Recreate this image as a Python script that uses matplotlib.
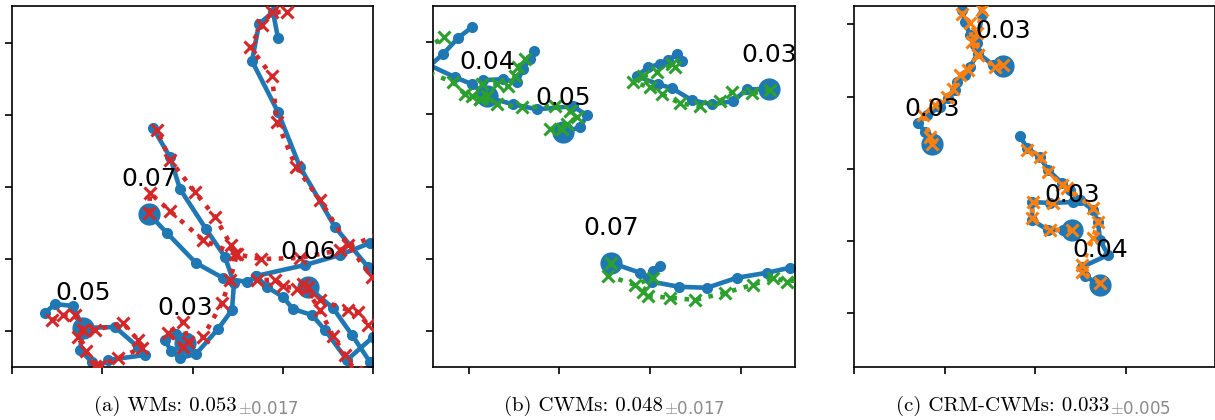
import numpy as np
import matplotlib.pyplot as plt

plt.rcParams['mathtext.fontset'] = 'cm'

BLUE = '#1f77b4'

# coordinates are in image-like units (y grows downward)
# ---- (a) WMs ----
a_gt_07 = [(149, 214), (167, 233), (196, 263), (223, 278), (247, 282), (256, 276), (305, 265), (340, 255), (370, 243), (390, 236)]
a_gt_03 = [(185, 343), (176, 334), (165, 340), (171, 351), (180, 358), (196, 354), (218, 329), (232, 310), (234, 283),
           (225, 257), (206, 229), (180, 189), (170, 157), (153, 128)]
a_gt_06 = [(308, 287), (333, 308), (352, 335), (370, 362), (380, 376)]
a_gt_x1 = [(395, 300), (368, 267), (335, 227), (300, 167), (278, 112), (252, 61), (259, 24), (273, 12), (278, 38)]
a_gt_x2 = [(395, 320), (373, 337), (347, 360), (325, 330), (312, 315), (293, 309), (283, 297), (267, 287), (256, 276)]
a_gt_05 = [(83, 328), (115, 327), (138, 347), (145, 355), (108, 360), (97, 368), (90, 380)]
a_gt_05b = [(45, 313), (55, 304), (73, 306), (83, 328), (80, 350), (92, 362), (97, 368)]

a_pr_07 = [(149, 213), (150, 193), (170, 211), (203, 240), (235, 254), (261, 259), (300, 258), (340, 250), (390, 230)]
a_pr_03 = [(183, 347), (168, 333), (183, 322), (188, 342), (203, 337), (222, 303), (230, 280), (237, 254), (231, 245),
           (215, 217), (195, 192), (170, 160), (157, 130)]
a_pr_06 = [(308, 287), (303, 284), (320, 310), (333, 336), (345, 355), (356, 372)]
a_pr_x1 = [(395, 295), (372, 277), (348, 245), (320, 200), (296, 167), (277, 122), (272, 76), (250, 47), (262, 25), (272, 12), (287, 12)]
a_pr_x2 = [(395, 345), (368, 325), (358, 312), (348, 310), (320, 300), (297, 289), (283, 286), (275, 280), (257, 280)]
a_pr_05 = [(52, 320), (63, 315), (75, 315), (83, 330), (95, 330), (123, 323), (138, 340), (142, 348), (118, 358), (100, 366)]
a_pr_05b = [(83, 330), (78, 337), (86, 351), (95, 366)]

a_starts = [(149, 214), (185, 343), (308, 287), (83, 328)]
a_labels = ['0.07', '0.03', '0.06', '0.05']

# ---- (b) CWMs ----
b_gt_04 = [(487, 97), (472, 85), (455, 78), (425, 64)]
b_gt_04b = [(487, 97), (483, 81), (503, 80), (517, 83), (523, 70), (530, 60), (534, 52)]
b_gt_05 = [(563, 133), (580, 128), (587, 116), (573, 107), (537, 110), (513, 105), (487, 98)]
b_gt_x0 = [(420, 75), (443, 55), (458, 39), (472, 28)]
b_gt_03 = [(769, 90), (747, 90), (733, 102), (712, 105), (692, 101), (672, 89), (658, 85), (637, 77), (648, 68),
           (660, 65), (668, 61), (677, 55), (682, 62)]
b_gt_07 = [(611, 263), (640, 273), (652, 282), (679, 287), (707, 288), (737, 278), (767, 273), (790, 268), (810, 264)]
b_gt_07b = [(648, 278), (653, 271), (660, 266)]

b_pr_04 = [(487, 97), (480, 100), (472, 97), (465, 95), (453, 83), (425, 72)]
b_pr_04b = [(487, 97), (482, 85), (497, 85), (508, 87), (515, 77), (518, 68), (525, 60)]
b_pr_05 = [(562, 130), (550, 130), (567, 125), (577, 118), (570, 112), (555, 107), (522, 108), (497, 105), (480, 100)]
b_pr_x0 = [(425, 50), (444, 38)]
b_pr_03 = [(770, 91), (752, 94), (732, 93), (720, 102), (700, 107), (680, 104), (662, 95), (650, 88), (633, 83),
           (643, 77), (657, 73), (672, 65), (675, 68)]
b_pr_07 = [(611, 263), (608, 276), (635, 285), (653, 278), (643, 292), (648, 296), (670, 298), (695, 300), (725, 293),
           (753, 285), (773, 278), (787, 282), (805, 279)]

b_starts = [(487, 97), (563, 133), (769, 90), (611, 263)]
b_labels = ['0.04', '0.05', '0.03', '0.07']

# ---- (c) CRM-CWMs ----
c_gt_03a = [(1003, 66), (993, 65), (978, 53), (975, 45), (970, 35), (965, 22), (962, 10), (960, -5)]
c_gt_03b = [(932, 144), (925, 132), (918, 123), (927, 115), (940, 107), (948, 98), (955, 90), (957, 82), (965, 75),
            (970, 67), (978, 53), (977, 43), (982, 15), (978, -5)]
c_gt_04 = [(1100, 285), (1085, 276), (1082, 267), (1108, 255), (1100, 240), (1098, 222), (1093, 210), (1080, 200),
           (1070, 190), (1062, 183), (1048, 170), (1040, 157), (1027, 148), (1020, 136)]
c_gt_03c = [(1072, 230), (1063, 230), (1048, 230), (1032, 220), (1032, 202), (1050, 203), (1073, 202), (1080, 200)]

c_pr_03a = [(1003, 65), (995, 67), (978, 55), (972, 42), (970, 23), (962, 14), (960, -5)]
c_pr_03b = [(932, 144), (930, 137), (923, 115), (935, 105), (947, 97), (953, 89), (960, 75), (968, 70), (978, 55),
            (977, 33), (982, 10), (980, -5)]
c_pr_04 = [(1100, 283), (1082, 272), (1082, 265), (1093, 238), (1098, 222), (1093, 208), (1067, 188), (1062, 185),
           (1048, 172), (1040, 157), (1027, 150)]
c_pr_03c = [(1072, 230), (1050, 230), (1032, 218), (1033, 202), (1053, 203)]

c_starts = [(1003, 66), (932, 144), (1072, 230), (1100, 285)]
c_labels = ['0.03', '0.03', '0.03', '0.04']

captions = ['(a) WMs: 0.053', '(b) CWMs: 0.048', '(c) CRM-CWMs: 0.033']
caption_std = ['0.017', '0.017', '0.005']

panels = [
    dict(gt=[a_gt_07, a_gt_03, a_gt_06, a_gt_x1, a_gt_x2, a_gt_05, a_gt_05b],
         pr=[a_pr_07, a_pr_03, a_pr_06, a_pr_x1, a_pr_x2, a_pr_05, a_pr_05b],
         starts=a_starts, labels=a_labels, color='#d62728',
         rect=(12, 361), xlim=(12, 373), xticks=[12, 102, 193, 283, 373],
         ylim=(367, 6), yticks=[43, 115, 187, 259, 331], cap_x=196),
    dict(gt=[b_gt_04, b_gt_04b, b_gt_05, b_gt_x0, b_gt_03, b_gt_07, b_gt_07b],
         pr=[b_pr_04, b_pr_04b, b_pr_05, b_pr_x0, b_pr_03, b_pr_07],
         starts=b_starts, labels=b_labels, color='#2ca02c',
         rect=(433, 362), xlim=(433, 795), xticks=[469, 559, 650, 741],
         ylim=(367, 7), yticks=[43, 115, 187, 259, 331], cap_x=614),
    dict(gt=[c_gt_03a, c_gt_03b, c_gt_04, c_gt_03c],
         pr=[c_pr_03a, c_pr_03b, c_pr_04, c_pr_03c],
         starts=c_starts, labels=c_labels, color='#ff7f0e',
         rect=(854, 361), xlim=(854, 1215), xticks=[854, 945, 1035, 1126],
         ylim=(367, 6), yticks=[24, 97, 169, 241, 313], cap_x=1033),
]

W, H = 1215, 420
fig = plt.figure(figsize=(W / 100, H / 100), dpi=100)

for p in panels:
    left, width = p['rect']
    ax = fig.add_axes([left / W, (H - 367) / H, width / W, 361 / H])
    for tr in p['gt']:
        xs, ys = zip(*tr)
        ax.plot(xs, ys, '-o', color=BLUE, lw=3.3, ms=7, zorder=2)
    sx, sy = zip(*p['starts'])
    ax.plot(sx, sy, 'o', color=BLUE, ms=15, zorder=2.5)
    for tr in p['pr']:
        xs, ys = zip(*tr)
        ax.plot(xs, ys, ':x', color=p['color'], lw=3.3, ms=9, mew=2.2, zorder=3)
    for (x, y), lab in zip(p['starts'], p['labels']):
        ax.annotate(lab, (x, y), xytext=(0, 25), textcoords='offset points',
                    ha='center', va='center', fontsize=18, zorder=5)
    ax.set_xlim(*p['xlim'])
    ax.set_ylim(*p['ylim'])
    ax.set_xticks(p['xticks'])
    ax.set_yticks(p['yticks'])
    ax.tick_params(labelbottom=False, labelleft=False, length=5, width=1.2)
    for s in ax.spines.values():
        s.set_linewidth(1.2)

# captions: main text + grey std subscript, centred together
fig.canvas.draw()
r = fig.canvas.get_renderer()
for p, cap, std in zip(panels, captions, caption_std):
    t1 = fig.text(0, 0, cap, family='cmr10', fontsize=15, va='baseline')
    t2 = fig.text(0, 0, r'$\pm$' + std, fontsize=12, color='#8a8a8a', va='baseline')
    w1 = t1.get_window_extent(r).width
    w2 = t2.get_window_extent(r).width
    x0 = p['cap_x'] - (w1 + w2) / 2
    t1.set_position((x0 / W, (H - 411) / H))
    t2.set_position(((x0 + w1 + 1) / W, (H - 414) / H))

fig.savefig('out.png', dpi=100)
